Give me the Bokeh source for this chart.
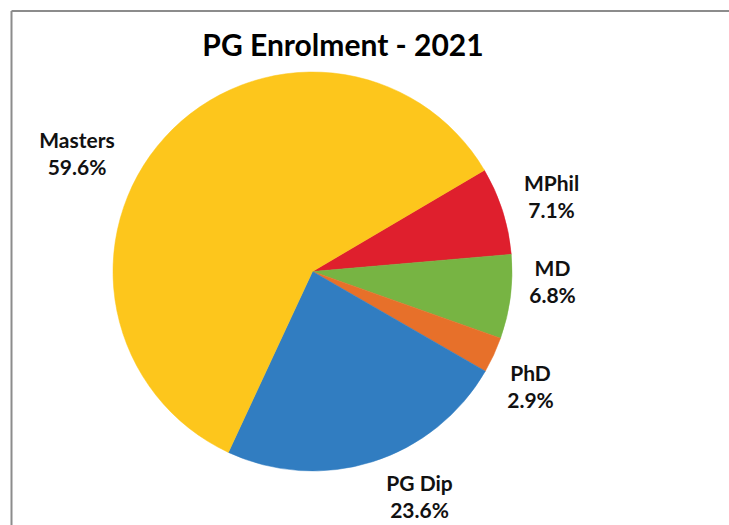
import numpy as np
from bokeh.plotting import figure
from bokeh.models import Range1d, Label
from bokeh.core.properties import value
from bokeh.embed import file_html
from bokeh.resources import INLINE

# ---- data (clockwise order starting after Masters) ----
categories = ["MPhil", "MD", "PhD", "PG Dip", "Masters"]
percent = [7.1, 6.8, 2.9, 23.6, 59.6]
colors = ["#DF1F2D", "#77B443", "#E7702A", "#317DC1", "#FDC61C"]
pct_labels = ["7.1%", "6.8%", "2.9%", "23.6%", "59.6%"]

# ---- layout / style ----
W, H = 729, 525
cx, cy, R = 312, 254, 199.5
start_deg = 30.5
label_dx = [239, 240, 218, 107, -235.5]
label_dy = [67, -18, -123.5, -233.5, 110]
FONT = "Lato"

p = figure(width=W, height=H, output_backend="svg", toolbar_location=None,
           x_range=Range1d(0, W), y_range=Range1d(0, H), min_border=0)
p.axis.visible = False
p.grid.visible = False
p.outline_line_color = None
p.background_fill_color = "white"
p.border_fill_color = "white"

# border frame (cropped at right and bottom)
p.multi_line(xs=[[11, 11], [11, W + 50]], ys=[[514.5, -50], [514.5, 514.5]],
             line_color="#8c8c8c", line_width=2)

vals = np.array(percent, dtype=float)
frac = vals / vals.sum()
cum = np.concatenate([[0], np.cumsum(frac)[:-1]])
s0 = np.deg2rad(start_deg)
starts = s0 - cum * 2 * np.pi
ends = starts - frac * 2 * np.pi

p.wedge(x=cx, y=cy, radius=R, start_angle=list(starts), end_angle=list(ends),
        direction="clock", fill_color=colors, line_color=colors, line_width=0.5)

lx = [cx + d for d in label_dx]
ly = [cy + d for d in label_dy]
p.text(x=lx, y=ly, text=categories, text_align="center", text_baseline="alphabetic",
       y_offset=-22.5, text_font=value(FONT), text_font_style="bold",
       text_font_size="21px", text_color="#111111")
p.text(x=lx, y=ly, text=pct_labels, text_align="center", text_baseline="alphabetic",
       y_offset=4.5, text_font=value(FONT), text_font_style="bold",
       text_font_size="21px", text_color="#111111")

title = Label(x=342.5, y=525 - 43, text="PG Enrolment - 2021", text_align="center",
              text_baseline="alphabetic", text_font=FONT, text_font_style="bold",
              text_font_size="30px", text_color="#000000")
p.add_layout(title)

open("out.html", "w").write(file_html(p, INLINE))
